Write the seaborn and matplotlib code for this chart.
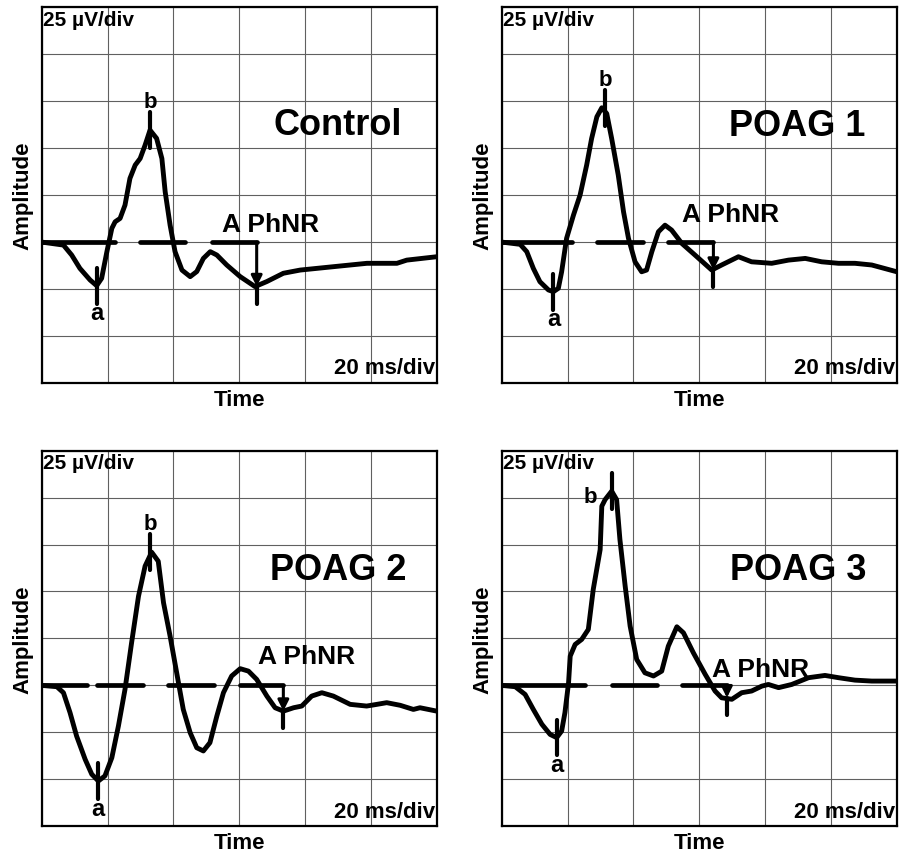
import matplotlib
matplotlib.use("Agg")
import matplotlib.pyplot as plt
import seaborn as sns
import pandas as pd

# ERG traces: time in ms, amplitude in uV
control_t = [0, 6.6, 9.1, 11.6, 14.7, 16.7, 18.2, 19.8, 21.3, 22.3, 23.8, 25.3, 26.8, 28.4, 29.9,
             31.4, 32.9, 34.9, 36.5, 37.5, 39.0, 40.5, 42.6, 45.1, 47.1, 49.1, 51.2, 53.2, 56.2,
             60.3, 64.8, 68.4, 73.4, 78.5, 88.6, 98.8, 107.9, 110.9, 120]
control_v = [0, -1.6, -6.9, -14, -20.2, -23.2, -19.3, -5.1, 7.3, 10.8, 12.6, 19.7, 33.9, 41, 44.5,
             51.6, 59.6, 55.2, 44.5, 26.8, 9, -5.1, -14.9, -18.4, -15.7, -8.7, -5.1, -6.9, -12.2,
             -18.4, -23.7, -21, -16.6, -14.9, -13.1, -11.3, -11.3, -9.6, -7.8]

poag1_t = [0, 5.6, 7.6, 9.6, 11.6, 14.2, 15.7, 17.2, 18.2, 19.7, 21.8, 23.8, 25.8, 27.3, 28.9,
           30.4, 31.9, 33.4, 35.4, 37.0, 38.5, 40.5, 42.5, 44.0, 45.6, 47.6, 49.6, 51.6, 54.7,
           58.7, 63.8, 66.8, 71.9, 75.9, 82.0, 87.1, 92.2, 97.2, 102.3, 107.3, 112.4, 120]
poag1_v = [0, -1.2, -5.1, -14, -21.1, -25.5, -26.4, -24.6, -15.8, 2, 14.4, 25, 41, 55.1, 66.7,
           71.5, 68.4, 55.1, 35.6, 16.1, 2, -10.5, -15.8, -14.9, -5.1, 5.5, 9, 6.4, -0.7,
           -6.9, -14.9, -12.2, -7.8, -10.5, -11.3, -9.6, -8.7, -10.5, -11.3, -11.3, -12.2, -15.8]

poag2_t = [0, 4.6, 6.6, 8.6, 10.6, 13.2, 15.2, 17.2, 19.2, 21.3, 23.3, 25.3, 27.3, 29.4, 31.4,
           33.4, 35.4, 37.0, 39.0, 41.0, 43.0, 45.1, 47.1, 49.1, 51.1, 53.2, 55.2, 57.7, 60.3,
           62.8, 65.3, 68.4, 70.9, 73.4, 76.5, 79.0, 82.0, 85.1, 88.6, 93.7, 98.7, 101.8, 104.8,
           108.9, 112.9, 114.9, 120]
poag2_v = [0, -0.7, -3.9, -14.5, -27, -39.4, -47.3, -50.9, -48.2, -38.5, -21.6, -2.1, 22.7, 47.5, 63.5,
           70.9, 66.1, 44, 26.2, 6.7, -12.8, -25.2, -33.2, -34.9, -30.5, -16.3, -3.9, 5, 8.9,
           7.6, 3.2, -5.7, -11.9, -13.7, -11.9, -11, -5.7, -3.9, -5.7, -10.1, -11, -10.1, -9.2,
           -10.6, -12.8, -11.9, -13.7]

poag3_t = [0, 4.1, 7.1, 9.6, 12.2, 14.7, 16.7, 18.2, 19.2, 20.3, 20.8, 22.3, 24.3, 26.3, 27.8,
           29.9, 30.4, 31.4, 33.4, 34.9, 35.9, 37.5, 39.0, 41.0, 43.5, 46.1, 48.6, 50.6, 53.2,
           55.2, 58.2, 61.8, 64.8, 66.8, 69.9, 72.9, 75.9, 79.0, 81.0, 84.1, 88.1, 93.2, 98.2,
           102.3, 107.3, 112.4, 120]
poag3_v = [0, -0.7, -4.8, -12.8, -20.7, -26.1, -27.8, -24.3, -14.5, 1.4, 15.6, 21.8, 24.5, 29.8, 51.1,
           72.3, 95.4, 98.9, 103.4, 98.9, 77.7, 52.8, 31.6, 13.8, 6.7, 5, 7.6, 20.9, 31.2,
           28, 17.4, 5.9, -3, -6.6, -7.4, -3.9, -3, -0.4, 0.5, -1.2, 0.5, 4.1, 5.3,
           4.1, 2.8, 2.3, 2.3]

# a-wave trough, b-wave peak, PhNR trough (t, v)
a_waves = [(16.7, -23.2), (15.7, -26.4), (17.2, -50.9), (16.7, -27.8)]
b_waves = [(32.9, 59.6), (31.4, 71.5), (32.9, 70.9), (33.4, 103.4)]
phnr_points = [(65.3, -23.7), (64.3, -14.9), (73.4, -13.7), (68.4, -6.6)]

# dashed baseline pieces (start, end) in ms
baseline_dashes = [
    [(0, 22.3), (29.9, 43.6), (51.7, 65.3)],
    [(0, 21.3), (28.9, 43.0), (50.6, 64.3)],
    [(0, 13.7), (16.7, 30.9), (38.5, 52.2), (60.3, 73.4)],
    [(0, 25.3), (33.4, 47.1), (54.7, 68.4)],
]

titles = ["Control", "POAG 1", "POAG 2", "POAG 3"]
traces = [(control_t, control_v), (poag1_t, poag1_v), (poag2_t, poag2_v), (poag3_t, poag3_v)]

# label placement (data coords)
title_pos = [(89.8, 62.5), (89.6, 62.2), (90.1, 61.7), (90.1, 61.7)]
phnr_label_pos = [(69.6, 9.6), (69.6, 15.2), (80.5, 15.6), (78.5, 8.5)]

sns.set_style("white")
plt.rcParams["font.family"] = ["Liberation Sans", "DejaVu Sans"]
plt.rcParams["font.weight"] = "bold"
plt.rcParams["text.color"] = "black"
plt.rcParams["axes.labelcolor"] = "black"

fig = plt.figure(figsize=(9.05, 8.54), dpi=100)
boxes = [(0.0461, 0.5504), (0.5544, 0.5504), (0.0461, 0.0313), (0.5544, 0.0313)]
W, H = 0.4365, 0.4399

for i in range(4):
    ax = fig.add_axes([boxes[i][0], boxes[i][1], W, H])
    t, v = traces[i]
    df = pd.DataFrame({"Time": t, "Amplitude": v})
    sns.lineplot(data=df, x="Time", y="Amplitude", ax=ax, color="black", lw=3.5,
                 sort=False, estimator=None, solid_joinstyle="round", solid_capstyle="round",
                 zorder=3)

    for s, e in baseline_dashes[i]:
        ax.plot([s, e], [0, 0], color="black", lw=3.4, solid_capstyle="round", zorder=3)

    # a and b markers
    at, av = a_waves[i]
    ax.plot([at, at], [av + 9.5, av - 9.5], color="black", lw=3, zorder=4)
    ax.text(at, av - 14.5, "a", ha="center", va="center", fontsize=17, fontweight="bold")
    bt, bv = b_waves[i]
    ax.plot([bt, bt], [bv + 9.5, bv - 9.5], color="black", lw=3, zorder=4)
    if i == 3:
        ax.text(bt - 6.6, bv - 2.7, "b", ha="center", va="center", fontsize=16, fontweight="bold")
    else:
        ax.text(bt, bv + 15.3, "b", ha="center", va="center", fontsize=16, fontweight="bold")

    # PhNR arrow
    pt, pv = phnr_points[i]
    ax.annotate("", xy=(pt, pv), xytext=(pt, 0),
                arrowprops=dict(arrowstyle="-|>", color="black", lw=2.2,
                                mutation_scale=16, shrinkA=0, shrinkB=0), zorder=4)
    ax.plot([pt, pt], [pv, pv - 9], color="black", lw=3, zorder=4)
    ax.text(*phnr_label_pos[i], "A PhNR", ha="center", va="center", fontsize=19,
            fontweight="bold")

    ax.text(*title_pos[i], titles[i], ha="center", va="center", fontsize=26, fontweight="bold")
    ax.text(0.003, 0.993, "25 µV/div", transform=ax.transAxes, ha="left", va="top",
            fontsize=15, fontweight="bold")
    ax.text(0.997, 0.012, "20 ms/div", transform=ax.transAxes, ha="right", va="bottom",
            fontsize=16, fontweight="bold")

    ax.set_xlim(0, 120)
    ax.set_ylim(-75, 125)
    ax.set_xticks(range(0, 121, 20))
    ax.set_yticks(range(-75, 126, 25))
    ax.set_xticklabels([])
    ax.set_yticklabels([])
    ax.tick_params(length=0, pad=0)
    ax.grid(True, color="#606060", lw=0.8)
    ax.set_axisbelow(True)
    for sp in ax.spines.values():
        sp.set_color("black")
        sp.set_linewidth(1.6)
    ax.set_xlabel("Time", fontsize=16, fontweight="bold", labelpad=4)
    ax.set_ylabel("Amplitude", fontsize=16, fontweight="bold", labelpad=6)

fig.savefig("out.png", dpi=100)
